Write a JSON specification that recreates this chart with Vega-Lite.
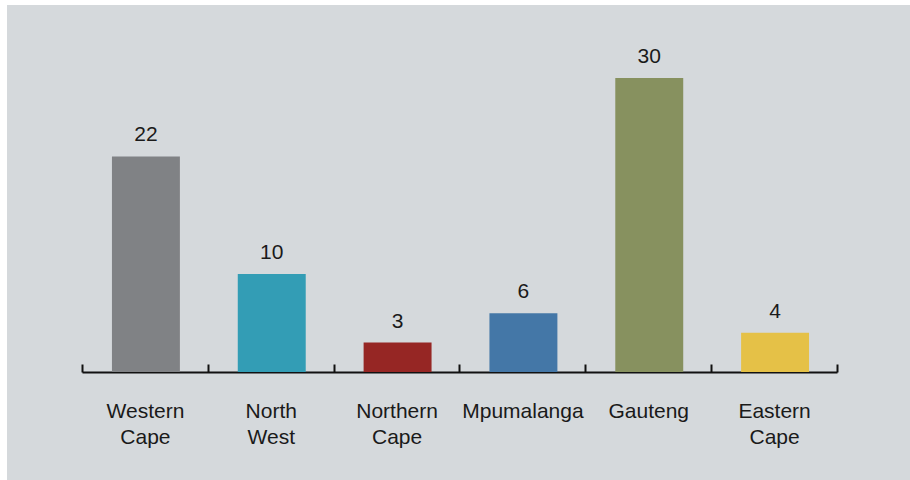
{
  "$schema": "https://vega.github.io/schema/vega-lite/v6.json",
  "width": 903,
  "height": 475,
  "autosize": {"type": "none"},
  "padding": {"left": 7, "top": 5, "right": 0, "bottom": 0},
  "background": "white",
  "config": {
    "view": {"fill": "#d5d9dc", "stroke": null},
    "font": "Liberation Sans"
  },
  "data": {
    "values": [
      {"region": "Western Cape", "value": 22, "color": "#808285"},
      {"region": "North West", "value": 10, "color": "#339db5"},
      {"region": "Northern Cape", "value": 3, "color": "#962624"},
      {"region": "Mpumalanga", "value": 6, "color": "#4477a7"},
      {"region": "Gauteng", "value": 30, "color": "#87915f"},
      {"region": "Eastern Cape", "value": 4, "color": "#e5c147"}
    ]
  },
  "encoding": {
    "x": {
      "field": "region",
      "type": "nominal",
      "sort": null,
      "scale": {"range": [75, 830], "paddingInner": 0, "paddingOuter": 0},
      "axis": {
        "title": null,
        "labelAngle": 0,
        "labelExpr": "split(datum.label, ' ')",
        "labelFont": "Liberation Sans",
        "labelFontSize": 21,
        "labelColor": "#1a1a1a",
        "labelLineHeight": 26,
        "labelPadding": 36,
        "labelBaseline": "top",
        "domainColor": "#111111",
        "domainWidth": 2,
        "tickColor": "#111111",
        "tickWidth": 2,
        "tickSize": -8,
        "tickBand": "extent",
        "offset": -108,
        "grid": false
      }
    },
    "y": {
      "field": "value",
      "type": "quantitative",
      "scale": {"domain": [0, 30], "range": [367, 73], "nice": false, "zero": true},
      "axis": null
    }
  },
  "layer": [
    {
      "mark": {"type": "bar", "width": {"band": 0.54}, "xOffset": 1},
      "encoding": {
        "color": {"field": "color", "type": "nominal", "scale": null, "legend": null}
      }
    },
    {
      "mark": {"type": "text", "baseline": "bottom", "dy": -11, "dx": 1, "fontSize": 21, "font": "Liberation Sans", "color": "#1a1a1a"},
      "encoding": {"text": {"field": "value", "type": "quantitative"}}
    }
  ]
}
